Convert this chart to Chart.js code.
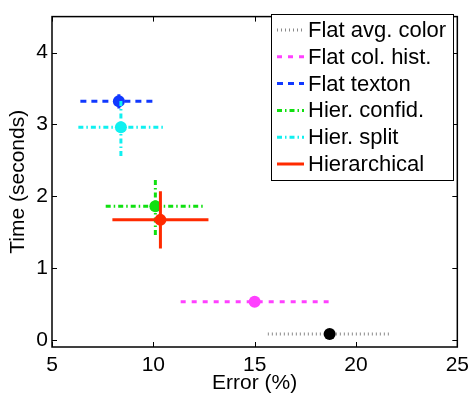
<!DOCTYPE html>
<html>
<head>
<meta charset="utf-8">
<script src="https://cdn.jsdelivr.net/npm/chart.js@4.4.1/dist/chart.umd.min.js"></script>
<style>
  html, body { margin: 0; padding: 0; background: #fff; }
</style>
</head>
<body>
<canvas id="chart" width="475" height="400"></canvas>
<script>
// values
const methods = ["Flat avg. color", "Flat col. hist.", "Flat texton", "Hier. confid.", "Hier. split", "Hierarchical"];
const errorPct = [18.7, 15.0, 8.3, 10.1, 8.4, 10.35];
const errorSpread = [3.05, 3.65, 1.9, 2.45, 2.1, 2.37];
const timeSec = [0.08, 0.53, 3.32, 1.86, 2.96, 1.67];
const timeSpread = [0.03, 0.03, 0.1, 0.4, 0.4, 0.4];
const xTicks = [5, 10, 15, 20, 25];
const yTicks = [0, 1, 2, 3, 4];

// line styles per method (matlab-ish)
const styles = [
    { color: "#000000", bar: "#8a8a8a", dash: [1, 3], width: 3 },
    { color: "#ff40ff", bar: "#ff40ff", dash: [5, 6], width: 3 },
    { color: "#1038ff", bar: "#1038ff", dash: [6, 5], width: 3 },
    { color: "#10e010", bar: "#10e010", dash: [5, 3, 1.5, 3], width: 3 },
    { color: "#10f0f0", bar: "#10f0f0", dash: [5, 3, 1.5, 3], width: 3 },
    { color: "#ff2a00", bar: "#ff2a00", dash: [], width: 3 }
];

const FONT = "'Liberation Sans', Arial, Helvetica, sans-serif";

const datasets = [];
methods.forEach((name, i) => {
    const s = styles[i];
    const base = (methods.length - 1 - i) * 10;
    datasets.push({
        label: name,
        data: [{ x: errorPct[i], y: timeSec[i] }],
        pointRadius: 6,
        pointBackgroundColor: s.color,
        pointBorderWidth: 0,
        order: base
    });
    datasets.push({
        label: name + " x",
        data: [{ x: errorPct[i] - errorSpread[i], y: timeSec[i] }, { x: errorPct[i] + errorSpread[i], y: timeSec[i] }],
        showLine: true, pointRadius: 0,
        borderColor: s.bar, borderWidth: s.width, borderDash: s.dash,
        order: base + 1
    });
    datasets.push({
        label: name + " y",
        data: [{ x: errorPct[i], y: timeSec[i] - timeSpread[i] }, { x: errorPct[i], y: timeSec[i] + timeSpread[i] }],
        showLine: true, pointRadius: 0,
        borderColor: s.bar, borderWidth: s.width, borderDash: s.dash,
        order: base + 2
    });
});

// box, inward ticks and the legend box inside the axes
const matlabAxes = {
    id: "matlabAxes",
    afterDatasetsDraw(chart) {
        const { ctx, chartArea: a, scales } = chart;
        ctx.save();
        ctx.strokeStyle = "#000";
        ctx.lineWidth = 1.5;
        ctx.strokeRect(a.left, a.top, a.right - a.left, a.bottom - a.top);
        ctx.lineWidth = 1;
        ctx.beginPath();
        xTicks.forEach(v => {
            const px = Math.round(scales.x.getPixelForValue(v)) + 0.5;
            ctx.moveTo(px, a.bottom); ctx.lineTo(px, a.bottom - 5);
            ctx.moveTo(px, a.top); ctx.lineTo(px, a.top + 5);
        });
        yTicks.forEach(v => {
            const py = Math.round(scales.y.getPixelForValue(v)) + 0.5;
            ctx.moveTo(a.left, py); ctx.lineTo(a.left + 5, py);
            ctx.moveTo(a.right, py); ctx.lineTo(a.right - 5, py);
        });
        ctx.stroke();

        // legend
        const lx = 271, ly = 14, lw = 182, lh = 166;
        ctx.fillStyle = "#fff";
        ctx.fillRect(lx, ly, lw, lh);
        ctx.lineWidth = 1;
        ctx.strokeRect(lx + 0.5, ly + 0.5, lw, lh);
        ctx.font = "22px " + FONT;
        ctx.textBaseline = "middle";
        methods.forEach((name, i) => {
            const s = styles[i];
            const y = 30 + i * 26.8;
            ctx.strokeStyle = s.bar;
            ctx.lineWidth = s.width;
            ctx.setLineDash(s.dash);
            ctx.beginPath();
            ctx.moveTo(277, y); ctx.lineTo(304, y);
            ctx.stroke();
            ctx.setLineDash([]);
            ctx.fillStyle = "#000";
            ctx.fillText(name, 308, y + 1);
        });
        ctx.restore();
    }
};

const tickFont = { family: FONT, size: 21 };

new Chart(document.getElementById("chart"), {
    type: "scatter",
    data: { datasets },
    options: {
        responsive: false,
        animation: false,
        layout: { padding: { top: 7, right: 13, left: 0, bottom: 0 } },
        plugins: { legend: { display: false }, tooltip: { enabled: false } },
        scales: {
            x: {
                type: "linear", min: 5, max: 25,
                grid: { display: false, drawTicks: false },
                border: { display: false },
                ticks: { font: tickFont, color: "#000", padding: 6, maxRotation: 0, autoSkip: false },
                afterBuildTicks: s => { s.ticks = xTicks.map(v => ({ value: v })); },
                afterFit: s => { s.height = 53; },
                title: { display: true, text: "Error (%)", color: "#000", font: tickFont, padding: { top: 0, bottom: 4 } }
            },
            y: {
                type: "linear", min: -0.1, max: 4.5,
                grid: { display: false, drawTicks: false },
                border: { display: false },
                ticks: { font: tickFont, color: "#000", padding: 4, autoSkip: false },
                afterBuildTicks: s => { s.ticks = yTicks.map(v => ({ value: v })); },
                afterFit: s => { s.width = 52; },
                title: { display: true, text: "Time (seconds)", color: "#000", font: tickFont, padding: { top: 6, bottom: 0 } }
            }
        }
    },
    plugins: [matlabAxes]
});
</script>
</body>
</html>
